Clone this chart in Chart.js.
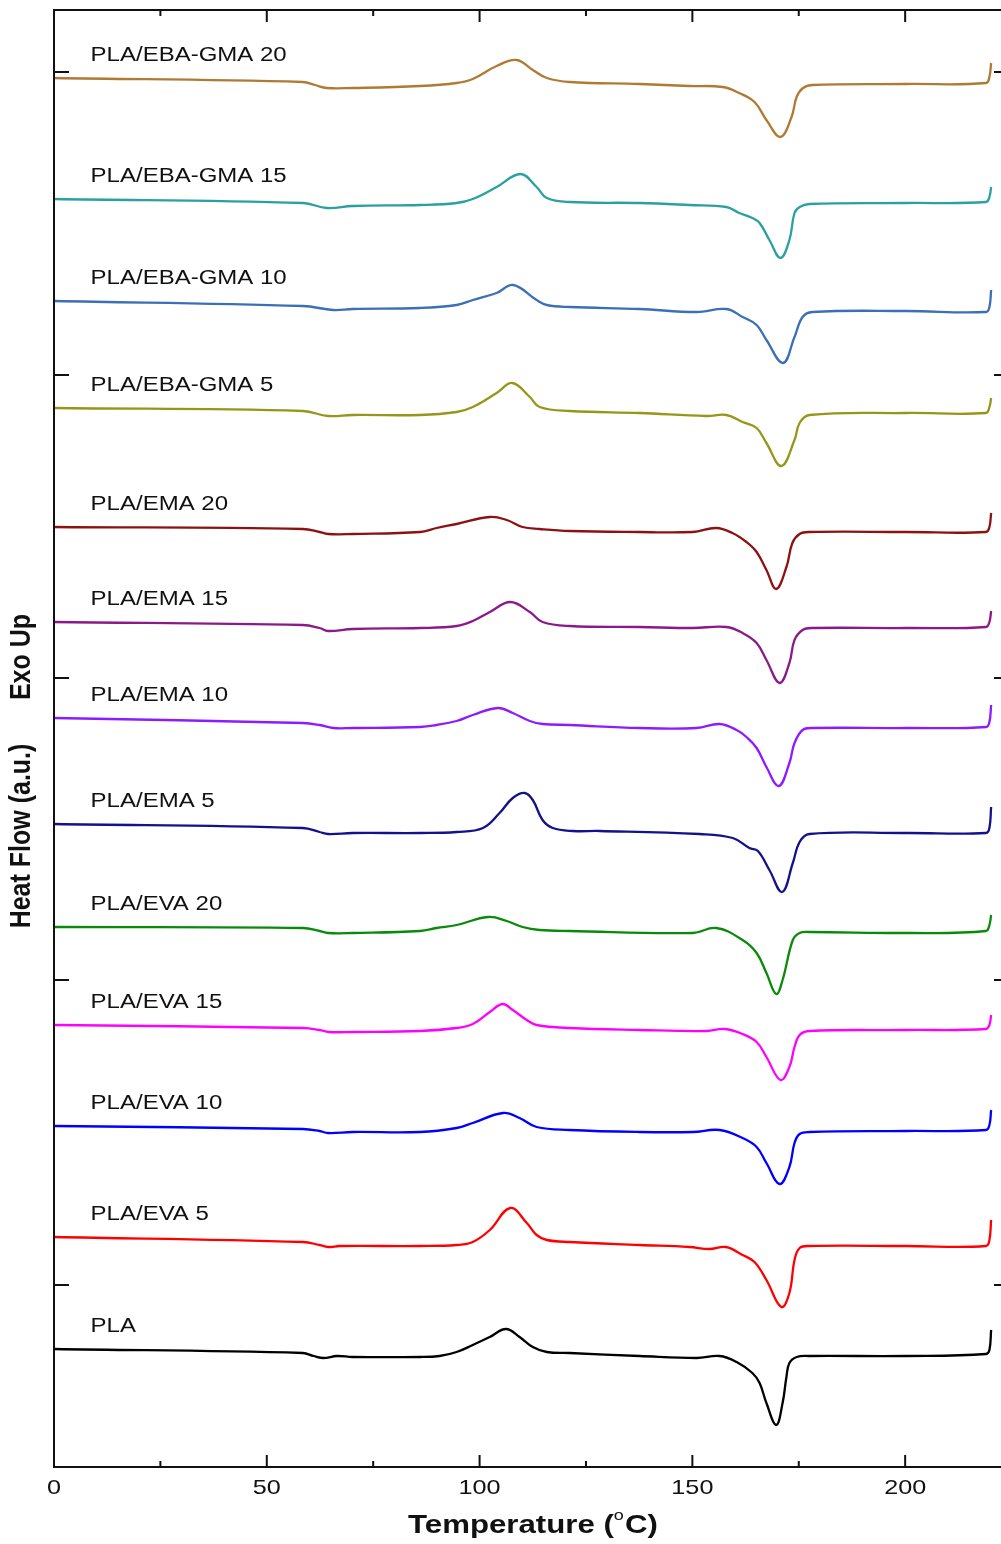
<!DOCTYPE html>
<html>
  <head>
    <title>DSC heating curves</title>
    <meta charset="utf-8">
    <script src="https://cdn.jsdelivr.net/npm/chart.js"></script>
    <style>
      html, body {
        margin: 0;
        padding: 0;
        background: #ffffff;
        overflow: hidden;
      }
      #chartdiv {
        width: 1012px;
        height: 1544px;
      }
    </style>
  </head>
  <body>
    <div id="chartdiv">
      <canvas id="dscChart" width="1012" height="1544"></canvas>
    </div>

    <script>
      // heat flow curves, [temperature (C), heat flow (a.u.)], stacked with offsets
      var pla = [[0,11.8],[58.5,11.4],[61,11.1],[63.3,10.9],[66.5,11.1],[70.2,11.0],[86,11.0],[90.6,11.1],[94.6,11.5],[98.4,12.2],[102.4,13.0],[106.2,13.8],[109.4,13.0],[112.5,12.0],[115.8,11.5],[121.2,11.4],[137.6,11.1],[151,10.9],[156.4,11.1],[160.4,10.5],[164.1,9.4],[165.8,8.4],[167.4,6.4],[169.7,4.2],[171.2,6.4],[172.1,9.0],[172.8,10.4],[174.5,11.0],[177.5,11.1],[200.2,11.1],[219,11.3],[219.8,11.7],[220.2,13.7]];
      var eva5 = [[0,23.0],[58.5,22.5],[62.4,22.2],[64.4,22.0],[67.2,22.1],[86,22.1],[94.6,22.2],[98.4,22.5],[102.4,23.7],[107.2,25.9],[111.1,24.4],[113.4,23.2],[115.8,22.7],[121.2,22.5],[137.6,22.2],[149.3,22.0],[154,21.8],[157.9,22.0],[161.8,21.2],[164.6,20.5],[167.4,18.7],[170.9,16.0],[172.8,17.4],[174,20.7],[175.2,21.9],[177.5,22.1],[200.2,22.1],[219,22.1],[219.8,22.7],[220.2,24.7]];
      var eva10 = [[0,34.1],[58.5,33.8],[62.4,33.6],[64.4,33.4],[70.2,33.5],[86,33.5],[94.6,33.9],[98.4,34.4],[105.5,35.4],[109.4,34.9],[113.4,34.0],[121.2,33.7],[137.6,33.5],[150.1,33.5],[156.4,33.7],[161.8,32.9],[165.1,32.0],[167.4,30.4],[170.5,28.3],[172.8,30.0],[174,32.4],[175.2,33.3],[177.5,33.5],[200.2,33.6],[219,33.7],[219.8,34.2],[220.2,35.7]];
      var eva15 = [[0,44.2],[58.5,43.9],[62.4,43.7],[64.6,43.5],[70.2,43.5],[86,43.6],[94.6,43.9],[98.4,44.3],[102.4,45.5],[105.4,46.3],[107.8,45.7],[111.1,44.7],[113.4,44.2],[121.2,43.9],[137.6,43.7],[153.3,43.6],[157.6,43.8],[161.8,43.3],[165.1,42.5],[167.4,41.0],[170.7,38.7],[172.8,40.0],[174,42.0],[175.2,43.2],[177.5,43.6],[200.2,43.7],[219,43.8],[219.8,44.2],[220.2,45.2]];
      var eva20 = [[0,54.0],[58.5,53.9],[62.4,53.6],[64.4,53.4],[70.2,53.4],[86,53.6],[89.9,53.9],[94.6,54.2],[102,55.0],[106.4,54.6],[110.1,54.0],[114.1,53.7],[121.2,53.6],[150.1,53.4],[155.6,53.9],[161.8,52.7],[165.1,51.4],[167.4,49.4],[169.7,47.3],[171.2,48.7],[173.6,52.7],[175.2,53.4],[177.5,53.5],[200.2,53.4],[219,53.6],[219.8,54.2],[220.2,55.2]];
      var ema5 = [[0,64.3],[58.5,63.9],[62.4,63.5],[64.4,63.3],[70.2,63.4],[86,63.4],[94.6,63.5],[100.8,63.9],[104.7,65.4],[107.8,66.9],[110.6,67.4],[112.5,66.7],[114.8,64.7],[117.2,63.9],[121.9,63.6],[128.2,63.6],[151.7,63.3],[159.5,62.9],[163.4,61.9],[165.4,61.6],[168.1,59.7],[171.1,57.5],[173.6,60.4],[175.2,62.5],[177.5,63.3],[200.2,63.4],[219,63.4],[219.8,63.9],[220.2,66.0]];
      var ema10 = [[0,74.9],[58.5,74.4],[62.4,74.2],[65.6,73.9],[70.2,73.9],[86,74.0],[89.9,74.2],[94.6,74.6],[98.4,75.2],[104.3,75.9],[107.8,75.4],[111.8,74.6],[114.8,74.3],[121.2,74.2],[137.6,73.9],[151,73.9],[156.4,74.3],[160.4,73.7],[162.7,73.0],[165.1,71.9],[167.4,70.0],[170.3,68.1],[172.8,70.4],[174,72.4],[175.9,73.7],[178.2,73.9],[200.2,73.9],[219,74.0],[219.8,74.5],[220.2,76.2]];
      var ema15 = [[0,84.5],[58.5,84.2],[62.4,83.9],[64.4,83.6],[70.2,83.8],[86,83.9],[94.6,84.1],[98.4,84.6],[102.4,85.5],[107.2,86.5],[111.8,85.5],[114.8,84.5],[121.2,84.1],[137.6,84.0],[150.1,83.9],[158,84.0],[161.8,83.4],[165.1,82.4],[167.4,80.7],[170.5,78.4],[172.8,80.4],[174,82.7],[175.9,83.7],[178.2,83.9],[200.2,83.9],[219,84.0],[219.8,84.5],[220.2,85.6]];
      var ema20 = [[0,94.0],[58.5,93.8],[62.4,93.5],[64.4,93.3],[70.2,93.3],[86,93.5],[89.9,93.9],[94.6,94.3],[102.4,95.0],[106.4,94.7],[110.1,94.0],[114.1,93.8],[121.2,93.6],[137.6,93.5],[150.1,93.5],[155.6,93.9],[159.4,93.4],[162.7,92.5],[165.1,91.5],[167.4,89.7],[169.7,87.8],[172.1,90.0],[173.5,92.4],[175.2,93.3],[177.5,93.5],[200.2,93.5],[219,93.5],[219.8,94.0],[220.2,95.4]];
      var ebaGma5 = [[0,105.9],[58.5,105.6],[64.4,105.1],[70.2,105.2],[86,105.2],[94.6,105.5],[98.4,106.0],[104,107.4],[107.7,108.4],[111.8,107.0],[114.1,106.0],[121.2,105.6],[137.6,105.4],[153.3,105.1],[158,105.2],[161.8,104.5],[165.1,103.9],[167.4,102.4],[170.9,100.1],[174,102.7],[175.2,104.4],[177.5,105.2],[200.2,105.4],[219,105.4],[219.8,106.0],[220.2,106.9]];
      var ebaGma10 = [[0,116.6],[58.5,116.1],[65.6,115.7],[70.2,115.8],[86,115.9],[94.6,116.2],[98.4,116.7],[104,117.4],[107.9,118.2],[113.4,116.7],[115.8,116.2],[121.2,116.0],[137.6,115.8],[151,115.5],[158,115.8],[161.8,115.0],[165.1,114.2],[167.4,112.7],[171.3,110.4],[174,113.0],[175.9,115.0],[178.2,115.5],[200.2,115.6],[219,115.5],[219.8,116.0],[220.2,117.7]];
      var ebaGma15 = [[0,126.8],[58.5,126.4],[64.1,125.9],[70.2,126.1],[86,126.2],[94.6,126.4],[98.4,126.8],[104,128.0],[109.6,129.3],[113.4,128.0],[115.8,126.9],[121.2,126.5],[137.6,126.4],[149.3,126.2],[158,126.0],[161,125.4],[164.1,124.9],[165.8,124.4],[168.1,122.7],[170.7,120.9],[172.8,122.7],[174,125.4],[175.2,126.0],[177.5,126.3],[200.2,126.4],[219,126.5],[219.8,127.0],[220.2,128.0]];
      var ebaGma20 = [[0,138.9],[58.5,138.5],[61.3,138.2],[64.1,137.9],[70.2,137.9],[86,138.1],[94.6,138.4],[98.4,138.8],[104,140.1],[108.7,140.7],[112.5,139.7],[115.8,138.9],[121.2,138.5],[137.6,138.3],[149.3,138.1],[157.1,138.0],[161,137.4],[164.6,136.5],[167.4,134.7],[170.7,133.0],[173.3,135.0],[174.5,137.0],[176,137.9],[178.2,138.2],[200.2,138.3],[219,138.4],[219.8,139.0],[220.2,140.4]];

      var curves = [pla, eva5, eva10, eva15, eva20, ema5, ema10, ema15, ema20, ebaGma5, ebaGma10, ebaGma15, ebaGma20];
      var names = ['PLA', 'PLA/EVA 5', 'PLA/EVA 10', 'PLA/EVA 15', 'PLA/EVA 20', 'PLA/EMA 5', 'PLA/EMA 10', 'PLA/EMA 15', 'PLA/EMA 20', 'PLA/EBA-GMA 5', 'PLA/EBA-GMA 10', 'PLA/EBA-GMA 15', 'PLA/EBA-GMA 20'];
      var colors = ['#000000', '#ff0000', '#0000ff', '#ff00ff', '#0a8a0a', '#12128c', '#8c1cff', '#8a1a8a', '#8c1212', '#969618', '#3b6fb6', '#2aa0a0', '#b07a35'];

      var xMajor = [0, 50, 100, 150, 200];
      var xMinor = [25, 75, 125, 175];
      var yTicks = [18.2, 48.7, 78.9, 109.2, 139.5];

      var FONT = '"Liberation Sans", Arial, sans-serif';
      var STRETCH = 1.2;

      function drawText(ctx, str, x, y, font, align) {
        ctx.save();
        ctx.translate(x, y);
        ctx.scale(STRETCH, 1);
        ctx.font = font;
        ctx.textAlign = align;
        ctx.textBaseline = 'middle';
        ctx.fillText(str, 0, 0);
        ctx.restore();
      }

      function drawVertText(ctx, str, x, y, font) {
        ctx.save();
        ctx.translate(x, y);
        ctx.scale(STRETCH, 1);
        ctx.rotate(-Math.PI / 2);
        ctx.font = font;
        ctx.textAlign = 'center';
        ctx.textBaseline = 'middle';
        ctx.fillText(str, 0, 0);
        ctx.restore();
      }

      // frame, inward ticks, curve names and axis titles
      var framePlugin = {
        id: 'frame',
        afterDraw: function(chart) {
          var ctx = chart.ctx;
          var a = chart.chartArea;
          var xs = chart.scales.x;
          var ys = chart.scales.y;
          ctx.save();
          ctx.strokeStyle = '#111';
          ctx.lineWidth = 2;
          ctx.strokeRect(a.left, a.top, a.right - a.left, a.bottom - a.top);

          ctx.beginPath();
          xMajor.forEach(function(v) {
            var px = xs.getPixelForValue(v);
            ctx.moveTo(px, a.bottom); ctx.lineTo(px, a.bottom - 12);
            ctx.moveTo(px, a.top); ctx.lineTo(px, a.top + 12);
          });
          xMinor.forEach(function(v) {
            var px = xs.getPixelForValue(v);
            ctx.moveTo(px, a.bottom); ctx.lineTo(px, a.bottom - 6);
            ctx.moveTo(px, a.top); ctx.lineTo(px, a.top + 6);
          });
          yTicks.forEach(function(v) {
            var py = ys.getPixelForValue(v);
            ctx.moveTo(a.left, py); ctx.lineTo(a.left + 15, py);
            ctx.moveTo(a.right, py); ctx.lineTo(a.right - 15, py);
          });
          ctx.stroke();

          ctx.fillStyle = '#111';
          xMajor.forEach(function(v) {
            drawText(ctx, String(v), xs.getPixelForValue(v), 1488, '21px ' + FONT, 'center');
          });

          // series names sit just above the start of each curve
          for (var i = 0; i < curves.length; i++) {
            drawText(ctx, names[i], xs.getPixelForValue(8.6), ys.getPixelForValue(curves[i][0][1] + 2.3), '20px ' + FONT, 'left');
          }

          // x title with a raised "o" for degrees
          var big = 'bold 26px ' + FONT;
          var small = '15px ' + FONT;
          ctx.font = big;
          var w1 = ctx.measureText('Temperature (').width;
          var w3 = ctx.measureText('C)').width;
          ctx.font = small;
          var w2 = ctx.measureText('o').width + 1;
          var total = (w1 + w2 + w3) * STRETCH;
          var x0 = 533 - total / 2;
          drawText(ctx, 'Temperature (', x0, 1526, big, 'left');
          drawText(ctx, 'o', x0 + w1 * STRETCH, 1516, small, 'left');
          drawText(ctx, 'C)', x0 + (w1 + w2) * STRETCH, 1526, big, 'left');

          drawVertText(ctx, 'Heat Flow (a.u.)', 22, 836, 'bold 25px ' + FONT);
          drawVertText(ctx, 'Exo Up', 22, 657, 'bold 25px ' + FONT);
          ctx.restore();
        }
      };

      var datasets = [];
      for (var i = 0; i < curves.length; i++) {
        datasets.push({
          label: names[i],
          data: curves[i],
          borderColor: colors[i],
          borderWidth: 2.3,
          pointRadius: 0,
          fill: false,
          tension: 0.4
        });
      }

      var ctx = document.getElementById('dscChart').getContext('2d');
      var dscChart = new Chart(ctx, {
        type: 'line',
        data: { datasets: datasets },
        options: {
          responsive: false,
          animation: false,
          devicePixelRatio: 1,
          layout: { padding: { left: 54, top: 10, right: 3, bottom: 77 } },
          plugins: { legend: { display: false }, tooltip: { enabled: false } },
          scales: {
            x: { type: 'linear', min: 0, max: 224.4, display: false },
            y: { type: 'linear', min: 0, max: 145.7, display: false }
          }
        },
        plugins: [framePlugin]
      });
    </script>
  </body>
</html>
